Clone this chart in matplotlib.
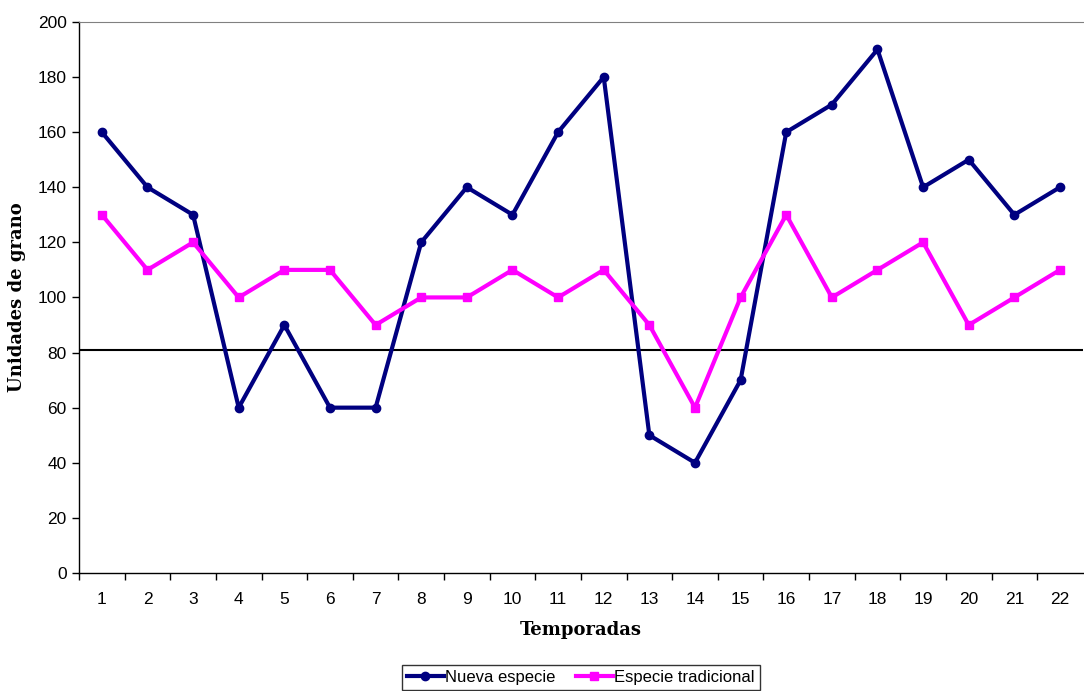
import matplotlib.pyplot as plt

# =========================
# Data
# =========================
temporadas = list(range(1, 23))
nueva = [160, 140, 130, 60, 90, 60, 60, 120, 140, 130, 160, 180,
         50, 40, 70, 160, 170, 190, 140, 150, 130, 140]
tradicional = [130, 110, 120, 100, 110, 110, 90, 100, 100, 110, 100, 110,
               90, 60, 100, 130, 100, 110, 120, 90, 100, 110]
umbral = 81

plt.rcParams["font.family"] = ["Liberation Sans", "DejaVu Sans"]

fig = plt.figure(figsize=(10.84, 6.91), dpi=100)
ax = fig.add_axes([0.0729, 0.1708, 0.926, 0.7975])

ax.plot(temporadas, nueva, color="#000080", linewidth=3, marker="o",
        markersize=6, label="Nueva especie", zorder=3)
ax.plot(temporadas, tradicional, color="#FF00FF", linewidth=3, marker="s",
        markersize=6, label="Especie tradicional", zorder=3)
ax.axhline(umbral, color="black", linewidth=1.5, zorder=2)

ax.set_xlim(0.5, 22.5)
ax.set_ylim(0, 200)
ax.set_yticks(range(0, 201, 20))
ax.set_xticks(temporadas)
ax.set_xticks([t + 0.5 for t in range(0, 22)], minor=True)
ax.tick_params(axis="x", which="major", length=0, pad=14, labelsize=12.5)
ax.tick_params(axis="x", which="minor", length=5, direction="out", width=1)
ax.tick_params(axis="y", length=5, direction="out", width=1, labelsize=12.5,
               pad=4)

ax.spines["right"].set_visible(False)
ax.spines["top"].set_color("#808080")
ax.spines["left"].set_linewidth(1)
ax.spines["bottom"].set_linewidth(1)

ax.set_xlabel("Temporadas", family="DejaVu Serif", fontweight="bold",
              fontsize=13, labelpad=10)
ax.set_ylabel("Unidades de grano", family="DejaVu Serif", fontweight="bold",
              fontsize=13, labelpad=8)

leg = ax.legend(loc="upper center", bbox_to_anchor=(0.5, -0.152), ncol=2,
                frameon=True, fancybox=False, edgecolor="black",
                fontsize=12, handlelength=2.2, handletextpad=0.1,
                columnspacing=1.2, borderpad=0.3)
leg.get_frame().set_linewidth(1)

fig.savefig("out.png", dpi=100)
